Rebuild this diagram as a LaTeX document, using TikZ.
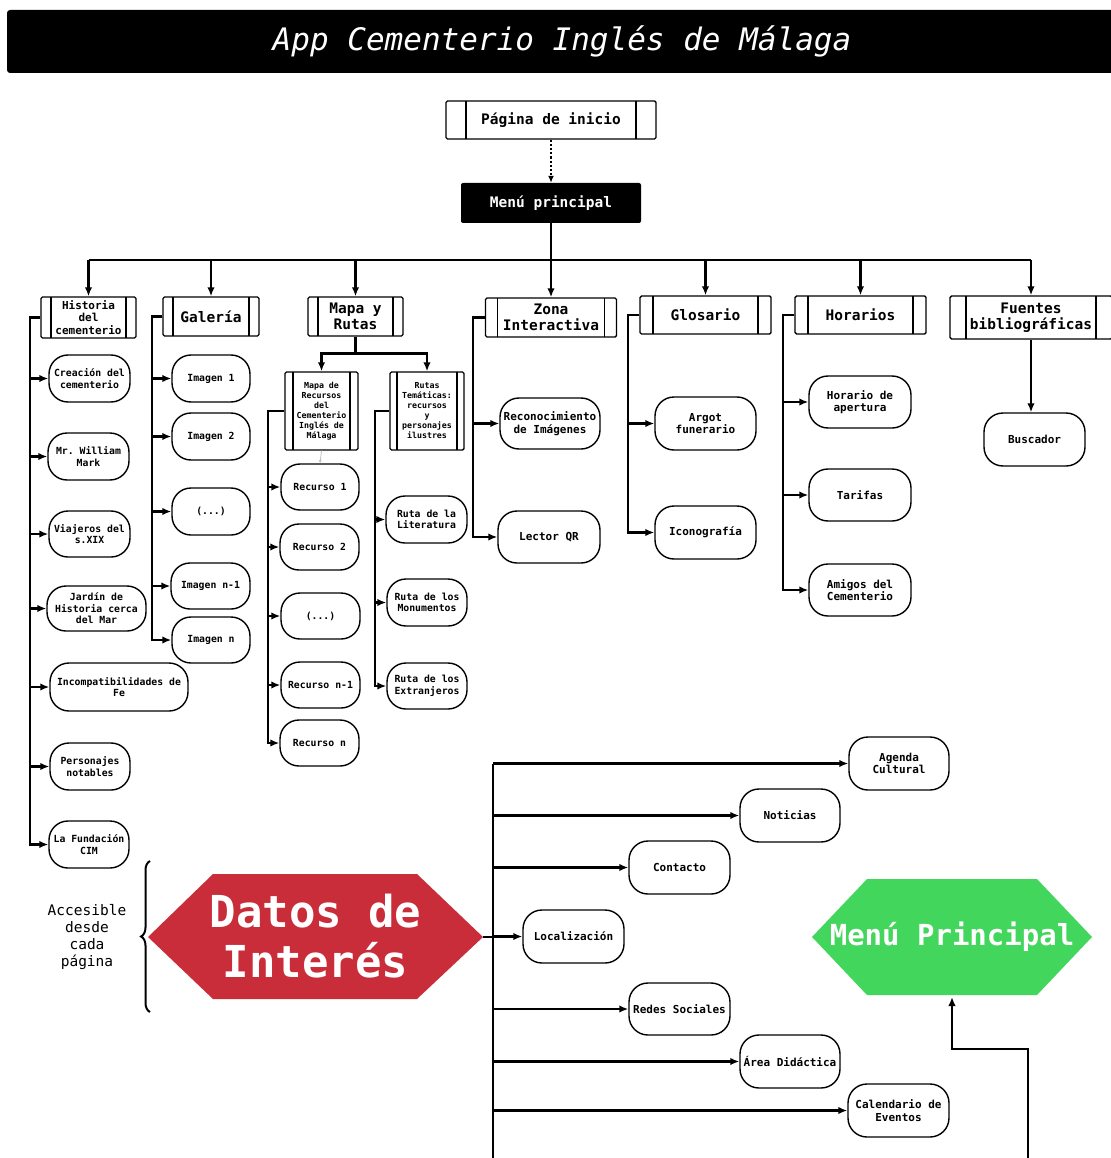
\documentclass[tikz,border=0pt]{standalone}
\usepackage{fontspec}
\setmonofont{DejaVu Sans Mono}
\newfontfamily\titlefont{DejaVu Sans Mono Oblique}
\usetikzlibrary{arrows.meta,decorations.pathreplacing,calc}
\definecolor{redc}{HTML}{C92D39}
\definecolor{greenc}{HTML}{43D65D}
\tikzset{
  every node/.style={align=center},
  f1/.style={font=\ttfamily\bfseries\fontsize{9.8}{11.5}\selectfont},
  f2/.style={font=\ttfamily\bfseries\fontsize{11}{12.5}\selectfont},
  fh/.style={font=\ttfamily\bfseries\fontsize{14.5}{16}\selectfont},
  fm/.style={font=\ttfamily\bfseries\fontsize{8.3}{10}\selectfont},
  hdr/.style={draw, line width=1.4pt, rounded corners=1.5pt, inner sep=0pt,
    path picture={
      \draw[line width=1.4pt] ([xshift=#1]path picture bounding box.north west) -- ([xshift=#1]path picture bounding box.south west);
      \draw[line width=1.4pt] ([xshift=-#1]path picture bounding box.north east) -- ([xshift=-#1]path picture bounding box.south east);}},
  leaf/.style={draw, line width=1.4pt, rounded corners=19pt, inner sep=1pt},
  ln/.style={line width=2.8pt},
  arr/.style={line width=2.6pt, -{Latex[length=9pt,width=7.5pt]}},
}
\begin{document}
\begin{tikzpicture}[x=1pt,y=-1pt]
\useasboundingbox (0,0) rectangle (1110,1158);

% title
\node[fill=black, text=white, rounded corners=3pt, minimum width=1110, minimum height=63,
      font=\titlefont\fontsize{31}{31}\selectfont] (title) at (562,41.5) {App Cementerio Inglés de Málaga};

% top
\node[hdr=20pt, fh, minimum width=210, minimum height=38] (inicio) at (551,120) {Página de inicio};
\node[fill=black, text=white, fh, rounded corners=2pt, minimum width=180, minimum height=40] (menu) at (551,203) {Menú principal};
\draw[line width=2.2pt, dotted, -{Latex[length=7pt,width=6pt]}] (inicio.south) -- (menu.north);

% headers
\node[hdr=10pt, f2, minimum width=95, minimum height=41] (hist) at (88.5,317.5) {Historia\\del\\cementerio};
\node[hdr=10pt, fh, minimum width=96, minimum height=39] (gal) at (211,316.5) {Galería};
\node[hdr=10pt, fh, minimum width=95, minimum height=39] (mapa) at (355.5,316.5) {Mapa y\\Rutas};
\node[hdr=12pt, fh, minimum width=131, minimum height=39] (zona) at (551,317.5) {Zona\\Interactiva};
\node[hdr=13pt, fh, minimum width=131, minimum height=38] (glos) at (705.5,315) {Glosario};
\node[hdr=13pt, fh, minimum width=131, minimum height=38] (hor) at (860.5,315) {Horarios};
\node[hdr=16pt, fh, minimum width=162, minimum height=43] (fuen) at (1031,317.5) {Fuentes\\bibliográficas};

\coordinate (busy) at (0,260);
\draw[ln] (menu.south) -- (menu.south |- busy);
\draw[ln] (hist.north |- busy) -- (fuen.north |- busy);
\foreach \n in {hist,gal,mapa,zona,glos,hor,fuen}
  \draw[arr] (\n.north |- busy) -- (\n.north);

% Historia children
\node[leaf, f1, minimum width=81, minimum height=47] (c1) at (89.5,378.5) {Creación del\\cementerio};
\node[leaf, f1, minimum width=81, minimum height=47] (c2) at (88.5,456.5) {Mr. William\\Mark};
\node[leaf, f1, minimum width=81, minimum height=46] (c3) at (89.5,534) {Viajeros del\\s.XIX};
\node[leaf, f1, minimum width=99, minimum height=45] (c4) at (96.5,608.5) {Jardín de\\Historia cerca\\del Mar};
\node[leaf, f1, minimum width=138, minimum height=48] (c5) at (119,687) {Incompatibilidades de\\Fe};
\node[leaf, f1, minimum width=80, minimum height=47] (c6) at (90,766.5) {Personajes\\notables};
\node[leaf, f1, minimum width=80, minimum height=47] (c7) at (89,844.5) {La Fundación\\CIM};
\coordinate (hx) at (30,0);
\draw[arr] (hist.west) -| (hx |- c7.west) -- (c7.west);
\foreach \c in {c1,c2,c3,c4,c5,c6} \draw[arr] (hx |- \c.west) -- (\c.west);

% Galeria children
\node[leaf, f1, minimum width=78, minimum height=47] (g1) at (211,378.5) {Imagen 1};
\node[leaf, f1, minimum width=78, minimum height=47] (g2) at (211,436.5) {Imagen 2};
\node[leaf, f1, minimum width=78, minimum height=47] (g3) at (211,511.5) {(...)};
\node[leaf, f1, minimum width=79, minimum height=46] (g4) at (210.5,586) {Imagen n-1};
\node[leaf, f1, minimum width=78, minimum height=46] (g5) at (211,640) {Imagen n};
\coordinate (gx) at (152,0);
\draw[arr] (gal.west) -| (gx |- g5.west) -- (g5.west);
\foreach \c in {g1,g2,g3,g4} \draw[arr] (gx |- \c.west) -- (\c.west);

% Mapa y Rutas
\node[hdr=8pt, fm, minimum width=73, minimum height=78] (mrec) at (321.5,411) {Mapa de\\Recursos\\del\\Cementerio\\Inglés de\\Málaga};
\node[hdr=7pt, fm, minimum width=74, minimum height=78] (rut) at (427,411) {Rutas\\Temáticas:\\recursos\\y\\personajes\\ilustres};
\draw[ln] (mapa.south) -- ++(0,17) coordinate (mj);
\draw[arr] (mj) -| (mrec.north);
\draw[arr] (mj) -| (rut.north);

\node[leaf, f1, minimum width=78, minimum height=46] (r1) at (320,487) {Recurso 1};
\node[leaf, f1, minimum width=79, minimum height=46] (r2) at (319.5,547) {Recurso 2};
\node[leaf, f1, minimum width=79, minimum height=46] (r3) at (320.5,616) {(...)};
\node[leaf, f1, minimum width=79, minimum height=46] (r4) at (320.5,685) {Recurso n-1};
\node[leaf, f1, minimum width=79, minimum height=46] (r5) at (319.5,743) {Recurso n};
\draw[black!25, line width=0.8pt, -{Latex[length=3pt,width=3pt]}] (mrec.south) -- (r1.north);
\coordinate (rx) at (268,0);
\draw[arr, line width=2.2pt] (mrec.west) -| (rx |- r5.west) -- (r5.west);
\foreach \c in {r1,r2,r3,r4} \draw[arr, line width=2.2pt] (rx |- \c.west) -- (\c.west);

\node[leaf, f1, minimum width=81, minimum height=47] (t1) at (426.5,519.5) {Ruta de la\\Literatura};
\node[leaf, f1, minimum width=80, minimum height=47] (t2) at (427,602.5) {Ruta de los\\Monumentos};
\node[leaf, f1, minimum width=80, minimum height=46] (t3) at (427,686) {Ruta de los\\Extranjeros};
\coordinate (tx) at (375,0);
\draw[arr, line width=2.2pt] (rut.west) -| (tx |- t3.west) -- (t3.west);
\foreach \c in {t1,t2} \draw[arr, line width=2.2pt] (tx |- \c.west) -- (\c.west);

% Zona Interactiva
\node[leaf, f2, minimum width=100, minimum height=51] (z1) at (550,423.5) {Reconocimiento\\de Imágenes};
\node[leaf, f2, minimum width=102, minimum height=52] (z2) at (549,537) {Lector QR};
\coordinate (zx) at (473,0);
\draw[arr] (zona.west) -| (zx |- z2.west) -- (z2.west);
\draw[arr] (zx |- z1.west) -- (z1.west);

% Glosario
\node[leaf, f2, minimum width=101, minimum height=53] (l1) at (705.5,423.5) {Argot\\funerario};
\node[leaf, f2, minimum width=101, minimum height=53] (l2) at (705.5,532.5) {Iconografía};
\coordinate (lx) at (628,0);
\draw[arr] (glos.west) -| (lx |- l2.west) -- (l2.west);
\draw[arr] (lx |- l1.west) -- (l1.west);

% Horarios
\node[leaf, f2, minimum width=102, minimum height=52] (o1) at (860,402) {Horario de\\apertura};
\node[leaf, f2, minimum width=102, minimum height=52] (o2) at (860,495) {Tarifas};
\node[leaf, f2, minimum width=102, minimum height=52] (o3) at (860,590) {Amigos del\\Cementerio};
\coordinate (ox) at (783,0);
\draw[arr] (hor.west) -| (ox |- o3.west) -- (o3.west);
\foreach \c in {o1,o2} \draw[arr] (ox |- \c.west) -- (\c.west);

% Fuentes
\node[leaf, f2, minimum width=101, minimum height=53] (busc) at (1034.5,439.5) {Buscador};
\draw[arr] (fuen.south) -- (fuen.south |- busc.north);

% Datos de Interes
\fill[redc] (148,937) -- (213,874) -- (417,874) -- (483,937) -- (417,999) -- (213,999) -- cycle;
\node[text=white, font=\ttfamily\bfseries\fontsize{44}{50}\selectfont] (datos) at (315.5,936) {Datos de\\Interés};
\coordinate (dtip) at (483,937);
\node[font=\ttfamily\fontsize{14.5}{17}\selectfont] (acc) at (87,937) {Accesible\\desde\\cada\\página};
\draw[line width=2pt, decorate, decoration={brace, amplitude=9pt}] (150,1012) -- (150,861);

\node[leaf, f2, minimum width=100, minimum height=53] (b1) at (899,763.5) {Agenda\\Cultural};
\node[leaf, f2, minimum width=100, minimum height=53] (b2) at (790,815.5) {Noticias};
\node[leaf, f2, minimum width=101, minimum height=53] (b3) at (679.5,867.5) {Contacto};
\node[leaf, f2, minimum width=101, minimum height=53] (b4) at (573.5,936.5) {Localización};
\node[leaf, f2, minimum width=101, minimum height=52] (b5) at (679.5,1009) {Redes Sociales};
\node[leaf, f2, minimum width=100, minimum height=53] (b6) at (790,1061.5) {Área Didáctica};
\node[leaf, f2, minimum width=101, minimum height=53] (b7) at (898.5,1110.5) {Calendario de\\Eventos};
\coordinate (dtop) at (493,763.5);
\coordinate (dbot) at (493,1165);
\draw[ln] (dtop) -- (dbot);
\draw[ln] (dtip) -- (dtip -| dtop);
\foreach \c in {b1,b2,b3,b4,b5,b6,b7} \draw[arr] (dtop |- \c.west) -- (\c.west);

% Menu Principal
\fill[greenc] (812,937) -- (867,879) -- (1037,879) -- (1092,937) -- (1037,995) -- (867,995) -- cycle;
\node[text=white, font=\ttfamily\bfseries\fontsize{29}{32}\selectfont] (mp) at (952,937) {Menú Principal};
\coordinate (mpb) at (952,997);
\coordinate (mpk) at (952,1049);
\coordinate (mpin) at (1028,1165);
\draw[arr] (mpin) |- (mpk) -- (mpb);
\end{tikzpicture}
\end{document}
